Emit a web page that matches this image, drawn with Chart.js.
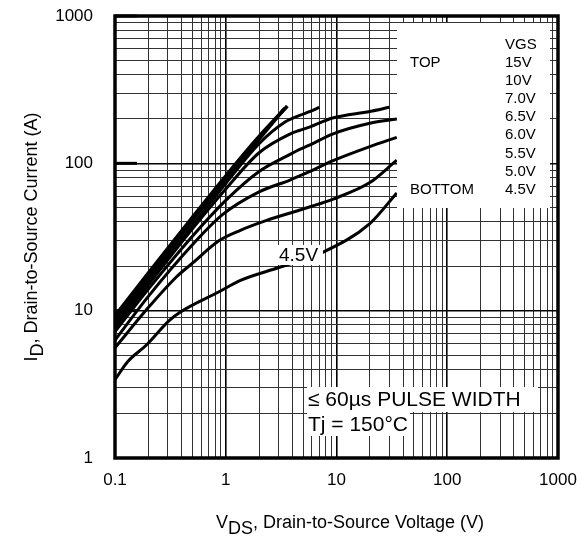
<!DOCTYPE html>
<html>
<head>
<meta charset="utf-8">
<script src="https://cdn.jsdelivr.net/npm/chart.js@4.4.1/dist/chart.umd.min.js"></script>
<style>
  html, body { margin: 0; padding: 0; background: #fff; }
</style>
</head>
<body>
<canvas id="chart" width="584" height="542"></canvas>
<script>
// ---- data (VDS in V, ID in A) ----
const vgsLabels = ['15V', '10V', '7.0V', '6.5V', '6.0V', '5.5V', '5.0V', '4.5V'];

const x15 = [0.1, 0.2, 0.5, 1, 2, 3.6];
const y15 = [9.2, 18, 43, 82, 152, 245];
const x10 = [0.1, 0.2, 0.5, 1, 2, 3.4];
const y10 = [8.6, 17, 41, 78, 146, 236];
const x70 = [0.1, 0.2, 0.5, 1, 2, 3.4, 4.6, 5.7, 7];
const y70 = [8.0, 16, 38, 73, 136, 190, 211, 224, 240];
const x65 = [0.1, 0.2, 0.5, 1, 2, 3.8, 4.6, 5.7, 9.2, 20, 30];
const y65 = [7.6, 15, 36, 67, 118, 158, 167, 176, 203, 225, 240];
const x60 = [0.1, 0.2, 0.5, 1, 2, 3.8, 4.6, 5.7, 9.2, 20, 35];
const y60 = [7.2, 14, 32, 56, 88, 115, 124, 133, 158, 187, 200];
const x55 = [0.1, 0.2, 0.5, 0.94, 2, 3.8, 4.6, 5.7, 9.2, 20, 35];
const y55 = [6.3, 12.5, 28, 45, 64, 77, 82, 88, 104, 130, 150];
const x50 = [0.1, 0.2, 0.36, 0.5, 0.88, 1.34, 2.34, 4.6, 5.7, 9.2, 20, 35];
const y50 = [5.6, 10.5, 17, 21, 30, 35, 41, 48, 50.5, 57, 74, 105];
const x45 = [0.1, 0.13, 0.19, 0.31, 0.39, 0.88, 1.34, 3.06, 7.5, 20, 35];
const y45 = [3.4, 4.5, 5.8, 8.6, 9.8, 13.5, 16, 19.7, 24.9, 39, 63];

const curveX = [x15, x10, x70, x65, x60, x55, x50, x45];
const curveY = [y15, y10, y70, y65, y60, y55, y50, y45];

// tick labels (decades only), gridlines on every 1..9 step
const xTickLabels = ['0.1', '1', '10', '100', '1000'];
const yTickLabels = ['1', '10', '100', '1000'];
const xDecadeStart = -1;
const yDecadeStart = 0;

const FONT = '"Liberation Sans", Arial, sans-serif';

function logTicks(firstExp, nDecades) {
  const out = [];
  for (let e = firstExp; e < firstExp + nDecades; e++) {
    for (let m = 1; m <= 9; m++) {
      out.push({ value: Number((m * Math.pow(10, e)).toPrecision(3)), major: m === 1 });
    }
  }
  out.push({ value: Math.pow(10, firstExp + nDecades), major: true });
  return out;
}

function isDecade(v) {
  const l = Math.log10(v);
  return Math.abs(l - Math.round(l)) < 1e-6;
}

function gridColor(ctx) {
  return ctx.tick && isDecade(ctx.tick.value) ? '#000' : '#333';
}
function gridWidth(ctx) {
  return ctx.tick && isDecade(ctx.tick.value) ? 1.6 : 1;
}

const datasets = vgsLabels.map((lab, i) => ({
  label: lab,
  data: curveX[i].map((x, j) => ({ x: x, y: curveY[i][j] })),
  borderColor: '#000',
  borderWidth: i < 2 ? 3.6 : 3,
  pointRadius: 0,
  fill: false,
  cubicInterpolationMode: 'monotone'
}));

// draw text made of pieces, some of them lowered (subscript)
function drawParts(ctx, parts, cx, y) {
  let total = 0;
  parts.forEach(p => { total += ctx.measureText(p[0]).width; });
  let x = cx - total / 2;
  parts.forEach(p => {
    ctx.fillText(p[0], x, y + p[1]);
    x += ctx.measureText(p[0]).width;
  });
}

const decorations = {
  id: 'decorations',
  afterDatasetsDraw(chart) {
    const ctx = chart.ctx;
    const a = chart.chartArea;
    const ys = chart.scales.y;
    ctx.save();

    // frame
    ctx.strokeStyle = '#000';
    ctx.lineWidth = 3.5;
    ctx.strokeRect(a.left, a.top, a.right - a.left, a.bottom - a.top);

    // short heavy tick marks inside the left axis
    ctx.lineWidth = 3;
    [10, 100, 1000].forEach(v => {
      const py = ys.getPixelForValue(v);
      ctx.beginPath();
      ctx.moveTo(a.left, py);
      ctx.lineTo(a.left + 22, py);
      ctx.stroke();
    });

    // legend box
    ctx.fillStyle = '#fff';
    ctx.fillRect(a.left + 282, a.top + 7, 153, 185);
    ctx.fillStyle = '#000';
    ctx.font = '15px ' + FONT;
    ctx.textAlign = 'left';
    ctx.textBaseline = 'middle';
    const colX = a.left + 390;
    ctx.fillText('VGS', colX, a.top + 29);
    const rowTop = a.top + 46.5;
    const rowStep = 18.2;
    vgsLabels.forEach((lab, i) => {
      ctx.fillText(lab, colX, rowTop + i * rowStep);
    });
    ctx.fillText('TOP', a.left + 295, rowTop);
    ctx.fillText('BOTTOM', a.left + 295, rowTop + 7 * rowStep);

    // 4.5V curve label
    ctx.fillStyle = '#fff';
    ctx.fillRect(a.left + 163, a.top + 229, 45, 20);
    ctx.fillStyle = '#000';
    ctx.font = '19px ' + FONT;
    ctx.fillText('4.5V', a.left + 164, a.top + 240);

    // pulse width / Tj note
    ctx.fillStyle = '#fff';
    ctx.fillRect(a.left + 192, a.top + 371, 231, 25);
    ctx.fillRect(a.left + 192, a.top + 396, 103, 24);
    ctx.fillStyle = '#000';
    ctx.font = '21px ' + FONT;
    ctx.fillText('\u2264 60\u00b5s PULSE WIDTH', a.left + 193, a.top + 384);
    ctx.fillText('Tj = 150\u00b0C', a.left + 193, a.top + 409);

    ctx.restore();
  },
  afterDraw(chart) {
    const ctx = chart.ctx;
    ctx.save();
    ctx.fillStyle = '#000';
    ctx.font = '18px ' + FONT;
    ctx.textAlign = 'left';
    ctx.textBaseline = 'alphabetic';
    // x axis title
    drawParts(ctx, [['V', 0], ['DS', 6], [', Drain-to-Source Voltage (V)', 0]], 350, 528);
    // y axis title
    ctx.translate(37, 237);
    ctx.rotate(-Math.PI / 2);
    drawParts(ctx, [['I', 0], ['D', 6], [', Drain-to-Source Current (A)', 0]], 0, 0);
    ctx.restore();
  }
};

new Chart(document.getElementById('chart'), {
  type: 'line',
  data: { datasets: datasets },
  options: {
    responsive: false,
    animation: false,
    layout: { padding: { top: 16, right: 26, left: 0, bottom: 0 } },
    plugins: {
      legend: { display: false },
      tooltip: { enabled: false }
    },
    scales: {
      x: {
        type: 'logarithmic',
        min: 0.1,
        max: 1000,
        afterBuildTicks: scale => { scale.ticks = logTicks(xDecadeStart, 4); },
        afterFit: scale => {
          scale.height = 84;
          scale.paddingLeft = 0;
          scale.paddingRight = 0;
        },
        border: { display: false },
        grid: { color: gridColor, lineWidth: gridWidth, drawTicks: false },
        ticks: {
          autoSkip: false,
          maxRotation: 0,
          padding: 12,
          color: '#000',
          font: { family: FONT, size: 17 },
          callback: v => isDecade(v) ? xTickLabels[Math.round(Math.log10(v)) - xDecadeStart] : ''
        }
      },
      y: {
        type: 'logarithmic',
        min: 1,
        max: 1000,
        afterBuildTicks: scale => { scale.ticks = logTicks(yDecadeStart, 3); },
        afterFit: scale => {
          scale.width = 115;
          scale.paddingTop = 0;
          scale.paddingBottom = 0;
        },
        border: { display: false },
        grid: { color: gridColor, lineWidth: gridWidth, drawTicks: false },
        ticks: {
          autoSkip: false,
          padding: 22,
          color: '#000',
          font: { family: FONT, size: 17 },
          callback: v => isDecade(v) ? yTickLabels[Math.round(Math.log10(v)) - yDecadeStart] : ''
        }
      }
    }
  },
  plugins: [decorations]
});
</script>
</body>
</html>
